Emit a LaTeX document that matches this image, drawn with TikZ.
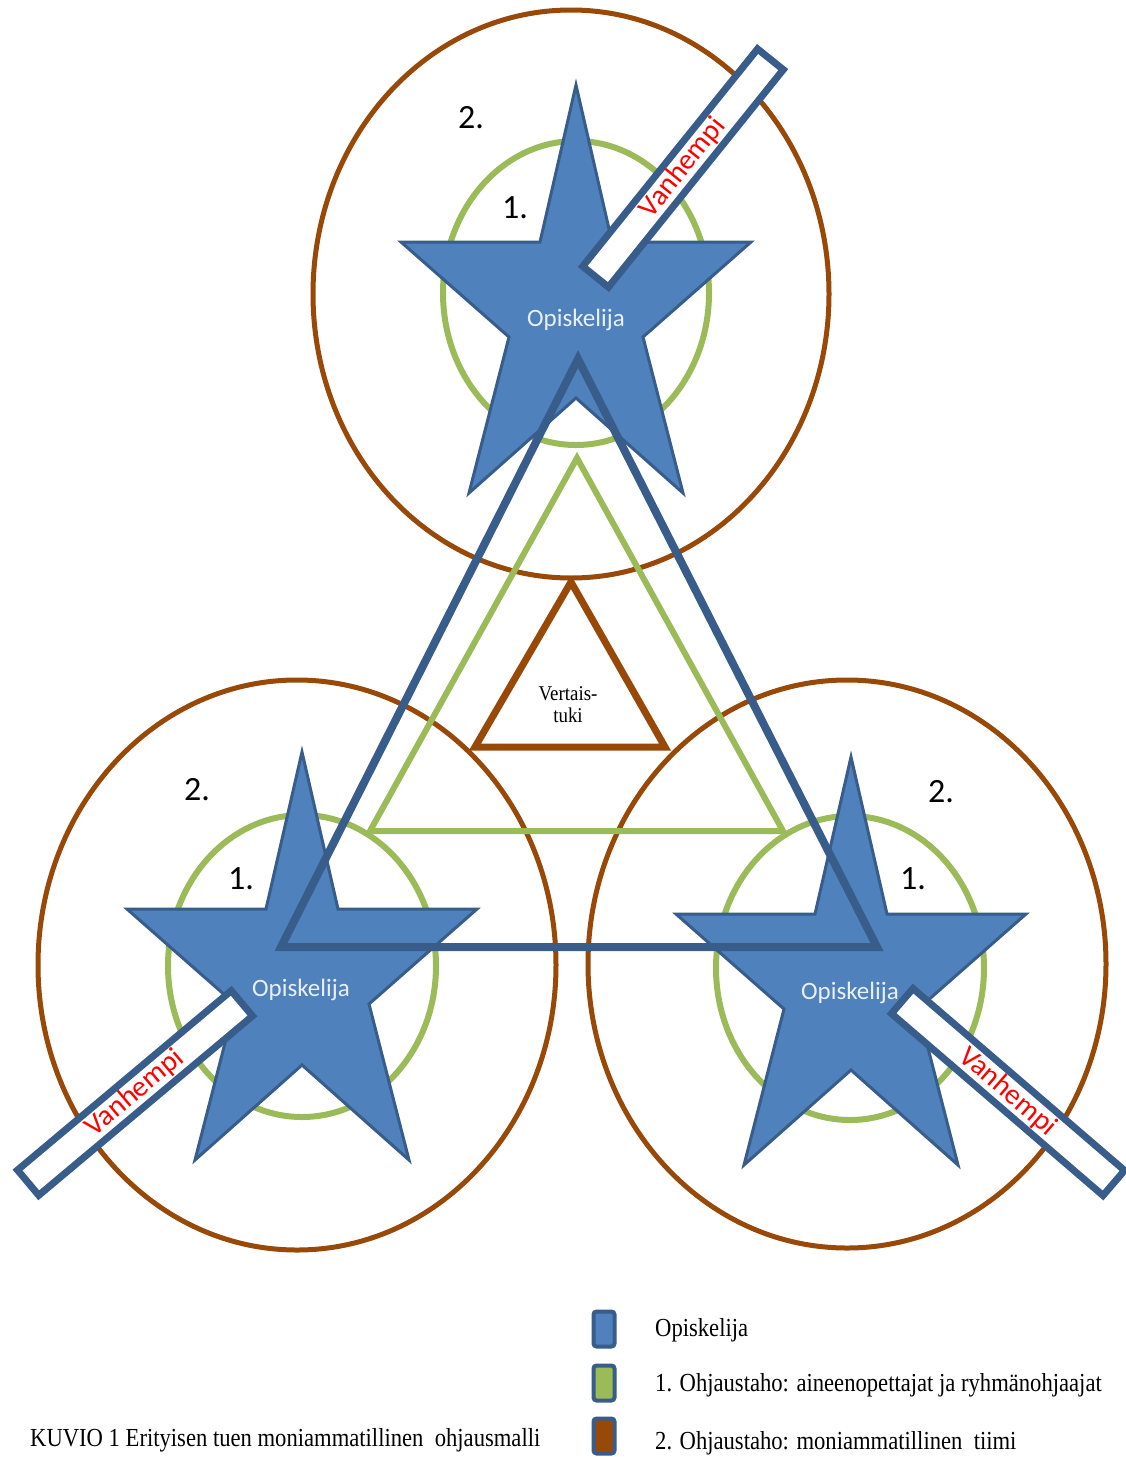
\documentclass[tikz,border=0pt]{standalone}
\usepackage{fontspec}
\setmainfont{Liberation Serif}
\newfontfamily\carl{Carlito}
\definecolor{starfill}{HTML}{4F81BD}
\definecolor{starline}{HTML}{385D8A}
\definecolor{grn}{HTML}{9BBB59}
\definecolor{brn}{HTML}{984807}
\definecolor{redtxt}{HTML}{FF0000}
\newcommand\opstar[2]{%
  \filldraw[starsty, shift={(#1,#2)}] (0,0) -- (36,157) -- (175,157) -- (67,252) -- (107,408) -- (0,313) -- (-107,408) -- (-67,252) -- (-175,157) -- (-36,157) -- cycle;}
\newcommand\narrow[1]{\scalebox{0.87}[1]{#1}}
\begin{document}
\begin{tikzpicture}[x=1pt,y=-1pt,
  starsty/.style={fill=starfill,draw=starline,line width=3pt,line join=miter},
  outerring/.style={draw=brn,line width=5pt},
  innerring/.style={draw=grn,line width=6pt},
  bartxt/.style={draw=starline,fill=white,line width=7pt,minimum width=279pt,minimum height=33pt,inner sep=0pt,text=redtxt,font=\carl\fontsize{29}{34}\selectfont},
  numlbl/.style={font=\carl\fontsize{34}{40}\selectfont,inner sep=0pt},
  stud/.style={font=\carl\fontsize{25}{30}\selectfont,text=white!88!starfill,inner sep=0pt},
  legbox/.style={draw=starline,line width=4pt,rounded corners=3pt,minimum width=21pt,minimum height=35pt,inner sep=0pt},
  legtxt/.style={anchor=west,inner sep=0pt,font=\fontsize{26}{30}\selectfont}]
\useasboundingbox (0,0) rectangle (1126,1457);
\fill[white] (0,0) rectangle (1126,1457);
% rings
\coordinate (cT) at (571,294);
\coordinate (cL) at (297,965);
\coordinate (cR) at (847,964);
\draw[outerring] (cT) ellipse [x radius=258pt, y radius=284pt];
\draw[outerring] (cL) ellipse [x radius=259pt, y radius=285pt];
\draw[outerring] (cR) ellipse [x radius=259pt, y radius=284pt];
\coordinate (gT) at (576,293);
\coordinate (gL) at (302,966);
\coordinate (gR) at (850,968);
\draw[innerring] (gT) ellipse [x radius=133pt, y radius=152pt];
\draw[innerring] (gL) ellipse [x radius=134pt, y radius=151pt];
\draw[innerring] (gR) ellipse [x radius=134pt, y radius=152pt];
% green triangle
\coordinate (g1) at (577,458);
\coordinate (g2) at (370,831);
\coordinate (g3) at (783,831);
\draw[grn,line width=6pt,line join=miter] (g1) -- (g2) -- (g3) -- cycle;
% brown triangle
\coordinate (b1) at (571,582);
\coordinate (b2) at (475,747);
\coordinate (b3) at (665,747);
\draw[brn,line width=7pt,line join=miter] (b1) -- (b2) -- (b3) -- cycle;
\node[align=center,inner sep=0pt,font=\fontsize{21}{22}\selectfont] (vt) at (568,705) {\scalebox{0.9}[1]{Vertais-}\\\scalebox{0.9}[1]{tuki}};
% stars
\opstar{576}{85}
\opstar{302}{752}
\opstar{851}{757}
% blue triangle
\coordinate (u1) at (578,359);
\coordinate (u2) at (281,947);
\coordinate (u3) at (877,947);
\draw[starline,line width=8pt,line join=miter,miter limit=20] (u1) -- (u2) -- (u3) -- cycle;
% student labels
\node[stud] (sT) at (576,320) {Opiskelija};
\node[stud] (sL) at (301,990) {Opiskelija};
\node[stud] (sR) at (850,993) {Opiskelija};
% numbers
\node[numlbl] (n2T) at (471,118) {2.};
\node[numlbl] (n1T) at (515,208) {1.};
\node[numlbl] (n2L) at (197,790) {2.};
\node[numlbl] (n1L) at (241,879) {1.};
\node[numlbl] (n2R) at (941,792) {2.};
\node[numlbl] (n1R) at (913,879) {1.};
% parent bars
\node[bartxt,rotate=51.2] (pT) at (683,168) {Vanhempi};
\node[bartxt,rotate=40] (pL) at (135,1093) {Vanhempi};
\node[bartxt,rotate=-40.7] (pR) at (1008,1092) {Vanhempi};
% legend
\node[legbox,fill=starfill] (k1) at (604,1329) {};
\node[legbox,fill=grn] (k2) at (604,1383) {};
\node[legbox,fill=brn] (k3) at (604,1436) {};
\node[legtxt] (l1) at (655,1330) {\narrow{Opiskelija}};
\node[legtxt] (l2) at (655,1385) {\narrow{1. Ohjaustaho: aineenopettajat ja ryhmänohjaajat}};
\node[legtxt] (l3) at (655,1443) {\narrow{2. Ohjaustaho: moniammatillinen\ \ tiimi}};
\node[legtxt] (cap) at (30,1440) {\narrow{KUVIO 1 Erityisen tuen moniammatillinen\ \ ohjausmalli}};
\end{tikzpicture}
\end{document}
